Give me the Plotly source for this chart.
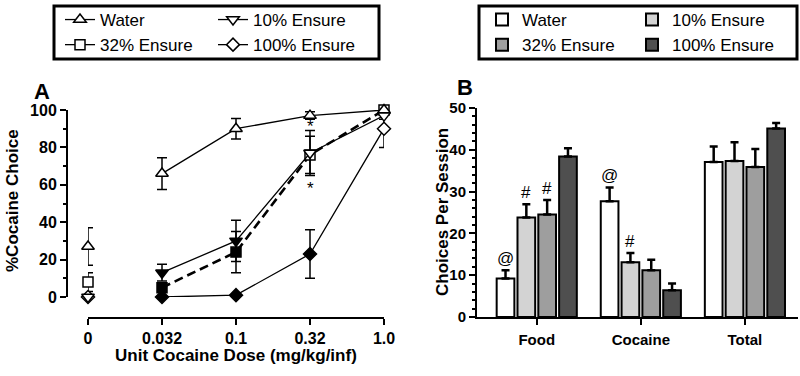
import plotly.graph_objects as go

# ---------------- Panel A data ----------------
doses = ["0", "0.032", "0.1", "0.32", "1.0"]
water_a = [27, 66, 90, 97, 100]
water_a_err = [10, 8.5, 5.5, 2, 0]
water_a_sig = [False, False, False, False, False]
e10_a = [0, 13, 30, 77, 97]
e10_a_err = [0, 4.5, 11, 12, 2]
e10_a_sig = [False, True, True, False, False]
e32_a = [8, 5, 24, 76, 100]
e32_a_err = [5, 2, 11, 10, 0]
e32_a_sig = [False, True, True, False, False]
e100_a = [0, 0, 1, 23, 90]
e100_a_err = [0, 0, 0.5, 13, 10]
e100_a_sig = [False, True, True, True, False]
star_above_10 = ["", "", "", "*", ""]
star_below_32 = ["", "", "", "*", ""]

# ---------------- Panel B data ----------------
groups_b = ["Food", "Cocaine", "Total"]
water_b = [9.2, 27.7, 37.1]
water_b_err = [2.0, 3.3, 3.7]
water_b_mark = ["@", "@", ""]
e10_b = [23.8, 13.1, 37.3]
e10_b_err = [3.2, 2.2, 4.5]
e10_b_mark = ["#", "#", ""]
e32_b = [24.5, 11.2, 35.9]
e32_b_err = [3.5, 2.5, 4.3]
e32_b_mark = ["#", "", ""]
e100_b = [38.4, 6.4, 45.1]
e100_b_err = [2.0, 1.6, 1.3]
e100_b_mark = ["", "", ""]

FONT = "Arial, Liberation Sans, sans-serif"
W, H = 800, 376
px = lambda v: v / W
py = lambda v: 1 - v / H

fig = go.Figure()

# Panel A traces (draw order: 32%, 100%, 10%, Water)
series_a = [
    ("32% Ensure", e32_a, e32_a_err, e32_a_sig, "square", 10, "dash", 2.6, "legend", 2),
    ("100% Ensure", e100_a, e100_a_err, e100_a_sig, "diamond", 10, "solid", 1.3, "legend2", 2),
    ("10% Ensure", e10_a, e10_a_err, e10_a_sig, "triangle-down", 11, "solid", 1.3, "legend2", 1),
    ("Water", water_a, water_a_err, water_a_sig, "triangle-up", 11, "solid", 1.3, "legend", 1),
]
xidx = list(range(len(doses)))
for name, vals, errs, sig, sym, size, dash, lw, leg, rank in series_a:
    dash_val = "9px,5px" if dash == "dash" else "solid"
    colors = ["black" if s else "white" for s in sig]
    # saline point (unconnected) also carries the legend entry
    fig.add_trace(go.Scatter(
        x=xidx[:1], y=vals[:1], mode="lines+markers", name=name,
        legend=leg, legendrank=rank, showlegend=True,
        line=dict(color="black", width=1.3, dash="solid"),
        marker=dict(symbol=sym, size=size, color=colors[:1],
                    line=dict(color="black", width=1.5)),
        error_y=dict(type="data", array=errs[:1], color="black", thickness=1.5, width=5),
        cliponaxis=False, xaxis="x", yaxis="y"))
    fig.add_trace(go.Scatter(
        x=xidx[1:], y=vals[1:], mode="lines+markers", name=name, showlegend=False,
        line=dict(color="black", width=lw, dash=dash_val),
        marker=dict(symbol=sym, size=size, color=colors[1:],
                    line=dict(color="black", width=1.5)),
        error_y=dict(type="data", array=errs[1:], color="black", thickness=1.5, width=5),
        cliponaxis=False, xaxis="x", yaxis="y"))

# Panel B traces
series_b = [
    ("Water", water_b, water_b_err, water_b_mark, "#ffffff", "legend3", 1),
    ("10% Ensure", e10_b, e10_b_err, e10_b_mark, "#d3d3d3", "legend4", 1),
    ("32% Ensure", e32_b, e32_b_err, e32_b_mark, "#9e9e9e", "legend3", 2),
    ("100% Ensure", e100_b, e100_b_err, e100_b_mark, "#4f4f4f", "legend4", 2),
]
for name, vals, errs, marks, col, leg, rank in series_b:
    fig.add_trace(go.Bar(
        x=groups_b, y=vals, name=name, legend=leg, legendrank=rank,
        marker=dict(color=col, line=dict(color="black", width=2)),
        error_y=dict(type="data", array=errs, arrayminus=[0] * len(errs), symmetric=False,
                     color="black", thickness=2.5, width=4),
        xaxis="x2", yaxis="y2"))

annotations = []
# significance symbols, panel B
nser = len(series_b)
for i, (name, vals, errs, marks, col, leg, rank) in enumerate(series_b):
    off = (i - (nser - 1) / 2) * 0.8 / nser
    for j, m in enumerate(marks):
        if m:
            annotations.append(dict(x=j + off, y=vals[j] + errs[j], xref="x2", yref="y2",
                                    text=m, showarrow=False, xanchor="center", yanchor="bottom",
                                    font=dict(family=FONT, size=17, color="black"), yshift=0))
# asterisks, panel A
for j, m in enumerate(star_above_10):
    if m:
        annotations.append(dict(x=j, y=e10_a[j] + e10_a_err[j], xref="x", yref="y", text=m,
                                showarrow=False, xanchor="center", yanchor="bottom",
                                font=dict(family=FONT, size=17, color="black"), yshift=-7))
for j, m in enumerate(star_below_32):
    if m:
        annotations.append(dict(x=j, y=e32_a[j] - e32_a_err[j], xref="x", yref="y", text=m,
                                showarrow=False, xanchor="center", yanchor="top",
                                font=dict(family=FONT, size=17, color="black"), yshift=-3))

# titles and panel letters
bold = lambda s: dict(family=FONT, size=s, color="black", weight="bold")
ctr = dict(xref="paper", yref="paper", showarrow=False, xanchor="center", yanchor="middle")
annotations += [
    dict(ctr, x=px(42), y=py(91), text="A", font=bold(22)),
    dict(ctr, x=px(465), y=py(87), text="B", font=bold(22)),
    dict(ctr, x=px(13), y=py(201), text="%Cocaine Choice", textangle=-90, font=bold(17)),
    dict(ctr, x=px(236), y=py(355), text="Unit Cocaine Dose (mg/kg/inf)", font=bold(17)),
    dict(ctr, x=px(442), y=py(212), text="Choices Per Session", textangle=-90, font=bold(17)),
]

axis_common = dict(showgrid=False, zeroline=False, showline=True, linecolor="black",
                   linewidth=2, ticks="outside", tickcolor="black", tickwidth=2, ticklen=6,
                   automargin=False)

leg_common = dict(orientation="v", xanchor="left", yanchor="top", y=py(2),
                  bgcolor="rgba(0,0,0,0)", font=dict(family=FONT, size=17, color="black"),
                  tracegroupgap=0)

XA_POS = 1 - 318 / H

fig.update_layout(
    width=W, height=H, margin=dict(l=0, r=0, t=0, b=0, autoexpand=False),
    paper_bgcolor="white", plot_bgcolor="white",
    font=dict(family=FONT, color="black"),
    barmode="group", bargap=0.2, bargroupgap=0.15,
    xaxis=dict(axis_common, domain=[px(88), px(384)], range=[0, 4], anchor="free",
               position=XA_POS, tickvals=xidx, ticktext=doses,
               tickfont=bold(16)),
    yaxis=dict(axis_common, domain=[py(297), py(110)], range=[0, 100], anchor="free",
               position=px(67), dtick=20, tickfont=bold(16),
               minor=dict(ticks="outside", dtick=10, ticklen=3, tickwidth=2, tickcolor="black")),
    xaxis2=dict(axis_common, domain=[px(477), px(798)], range=[-0.574, 2.51], anchor="y2",
                type="category", tickfont=bold(15), ticklabelstandoff=2),
    yaxis2=dict(axis_common, domain=[py(317), py(108)], range=[0, 50], anchor="x2",
                dtick=10, tickfont=bold(15),
                minor=dict(ticks="outside", dtick=2, ticklen=3, tickwidth=1.5, tickcolor="black")),
    legend=dict(leg_common, x=px(60)),
    legend2=dict(leg_common, x=px(213)),
    legend3=dict(leg_common, x=px(482)),
    legend4=dict(leg_common, x=px(632)),
    annotations=annotations,
    shapes=[
        dict(type="rect", xref="paper", yref="paper", x0=px(54), x1=px(379), y0=py(59), y1=py(6),
             line=dict(color="black", width=3)),
        dict(type="rect", xref="paper", yref="paper", x0=px(479), x1=px(797), y0=py(59), y1=py(6),
             line=dict(color="black", width=3)),
        # axis line of panel A's dose axis (spans first to last dose)
        dict(type="line", xref="x", yref="paper", x0=xidx[0], x1=xidx[-1], y0=XA_POS, y1=XA_POS,
             line=dict(color="black", width=2)),
    ],
)

fig.write_html("out.html", config={"displayModeBar": False},
               post_script="document.body.style.margin='0';")
